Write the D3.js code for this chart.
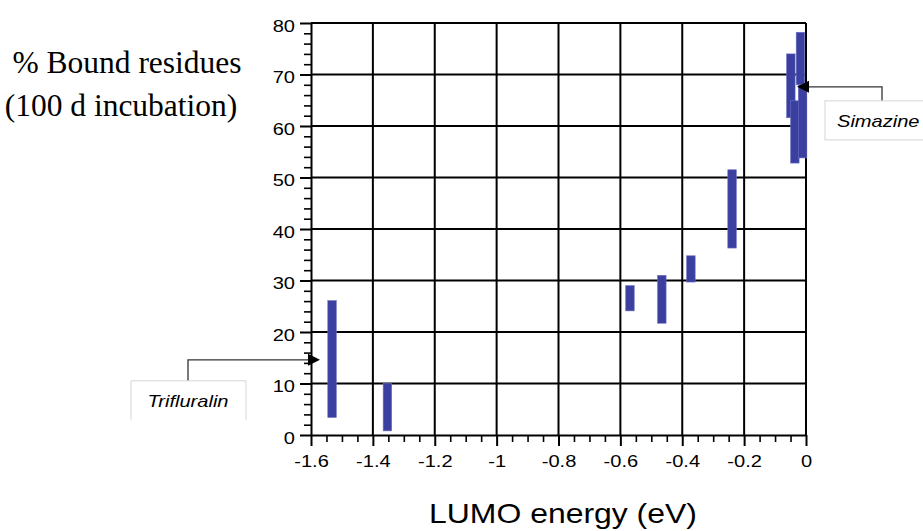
<!DOCTYPE html>
<html>
<head>
<meta charset="utf-8">
<script src="https://cdn.jsdelivr.net/npm/d3@7"></script>
<style>
  body { margin: 0; background: #fff; }
  svg { display: block; }
</style>
</head>
<body>
<svg id="canvas" width="923" height="531"></svg>
<script>
// LUMO energy (eV) of each compound and its bound-residue range (%)
let lumo = [-1.532, -1.353, -0.569, -0.466, -0.372, -0.239, -0.049, -0.036, -0.018, -0.011];
let boundLow = [3.4, 0.8, 24.1, 21.7, 29.7, 36.3, 61.6, 52.8, 68.0, 53.8];
let boundHigh = [26.1, 10.0, 29.0, 31.0, 34.8, 51.5, 74.0, 64.9, 78.2, 68.0];

let xTicks = [-1.6, -1.4, -1.2, -1, -0.8, -0.6, -0.4, -0.2, 0];
let yTicks = [0, 10, 20, 30, 40, 50, 60, 70, 80];

// callouts: name, arrow tip (data coords)
let calloutNames = ['Trifluralin', 'Simazine'];
let calloutX = [-1.571, -0.029];
let calloutY = [14.6, 67.6];

let svg = d3.select('#canvas');

let x = d3.scaleLinear().domain([-1.6, 0]).range([311, 806]);
let y = d3.scaleLinear().domain([0, 80]).range([435, 23]);

// stretch helvetica-ish text a bit wider, like the original
let stretch = (sel, k) => {
    sel.each(function () {
        let w = this.getComputedTextLength();
        d3.select(this).attr('textLength', w * k).attr('lengthAdjust', 'spacingAndGlyphs');
    });
};

// grid
svg.append('g')
    .selectAll('line')
    .data(xTicks.slice(1))
    .enter()
    .append('line')
    .attr('x1', (d) => x(d)).attr('x2', (d) => x(d))
    .attr('y1', y(80)).attr('y2', y(0))
    .attr('stroke', '#000').attr('stroke-width', 2);

svg.append('g')
    .selectAll('line')
    .data(yTicks.slice(1))
    .enter()
    .append('line')
    .attr('x1', x(-1.6)).attr('x2', x(0))
    .attr('y1', (d) => y(d)).attr('y2', (d) => y(d))
    .attr('stroke', '#000').attr('stroke-width', 2);

// minor ticks
let xMinor = d3.range(-1.6, 0.001, 0.05).filter((d) => Math.abs(d * 5 - Math.round(d * 5)) > 0.01);
let yMinor = d3.range(0, 80.1, 2).filter((d) => d % 10 !== 0);

svg.append('g')
    .attr('transform', 'translate(0,' + y(0) + ')')
    .call(d3.axisBottom(x).tickValues(xMinor).tickSize(7).tickSizeOuter(0).tickFormat(''))
    .call((g) => g.select('.domain').remove())
    .selectAll('line').attr('stroke-width', 1.6);

svg.append('g')
    .attr('transform', 'translate(' + x(-1.6) + ',0)')
    .call(d3.axisLeft(y).tickValues(yMinor).tickSize(7).tickSizeOuter(0).tickFormat(''))
    .call((g) => g.select('.domain').remove())
    .selectAll('line').attr('stroke-width', 1.6);

// major axes
let xAxis = svg.append('g')
    .attr('transform', 'translate(0,' + y(0) + ')')
    .call(d3.axisBottom(x).tickValues(xTicks).tickSize(11).tickSizeOuter(0).tickPadding(9)
        .tickFormat((d) => String(+d.toFixed(1))));
xAxis.select('.domain').attr('stroke-width', 2);
xAxis.selectAll('line').attr('stroke-width', 2);
xAxis.selectAll('text')
    .attr('font-family', 'Liberation Sans, Arial, sans-serif')
    .attr('font-size', 17)
    .attr('fill', '#000')
    .call(stretch, 1.18);

let yAxis = svg.append('g')
    .attr('transform', 'translate(' + x(-1.6) + ',0)')
    .call(d3.axisLeft(y).tickValues(yTicks).tickSize(11).tickSizeOuter(0).tickPadding(5));
yAxis.select('.domain').attr('stroke-width', 2);
yAxis.selectAll('line').attr('stroke-width', 2);
yAxis.selectAll('text')
    .attr('font-family', 'Liberation Sans, Arial, sans-serif')
    .attr('font-size', 17)
    .attr('dy', '0.48em')
    .attr('fill', '#000')
    .call(stretch, 1.18);

// bars
let barW = 8.5;
svg.append('g')
    .selectAll('rect')
    .data(lumo)
    .enter()
    .append('rect')
    .attr('x', (d) => x(d) - barW / 2)
    .attr('width', barW)
    .attr('y', (d, i) => y(boundHigh[i]))
    .attr('height', (d, i) => y(boundLow[i]) - y(boundHigh[i]))
    .attr('fill', '#3b40a0')
    .attr('stroke', '#6b70c0')
    .attr('stroke-width', 0.6);

// callouts
let arrow = (tx, ty, dir) => {
    // dir = -1 pointing left, +1 pointing right
    let bx = tx - dir * 12;
    return 'M' + tx + ',' + ty + 'L' + bx + ',' + (ty - 6) + 'L' + bx + ',' + (ty + 6) + 'Z';
};

// Trifluralin: line comes from the left, box below-left
{
    let tx = x(calloutX[0]), ty = y(calloutY[0]);
    let cx = 188;
    svg.append('path')
        .attr('d', 'M' + cx + ',' + (ty + 21) + 'V' + ty + 'H' + (tx - 10))
        .attr('fill', 'none').attr('stroke', '#333').attr('stroke-width', 1.3);
    svg.append('path').attr('d', arrow(tx, ty, 1)).attr('fill', '#000');
    svg.append('path')
        .attr('d', 'M131,' + (ty + 60) + 'V' + (ty + 21) + 'H246V' + (ty + 60))
        .attr('fill', 'none').attr('stroke', '#d6d6d6').attr('stroke-width', 1);
    svg.append('text')
        .attr('x', cx).attr('y', ty + 47)
        .attr('text-anchor', 'middle')
        .attr('font-family', 'Liberation Sans, Arial, sans-serif')
        .attr('font-style', 'italic')
        .attr('font-size', 17)
        .text(calloutNames[0])
        .call(stretch, 1.18);
}

// Simazine: line goes to the right, box below-right
{
    let tx = x(calloutX[1]), ty = y(calloutY[1]);
    let cx = 882;
    svg.append('path')
        .attr('d', 'M' + (tx + 10) + ',' + ty + 'H' + cx + 'V' + (ty + 14))
        .attr('fill', 'none').attr('stroke', '#333').attr('stroke-width', 1.3);
    svg.append('path').attr('d', arrow(tx, ty, -1)).attr('fill', '#000');
    svg.append('rect')
        .attr('x', 825).attr('y', ty + 14).attr('width', 120).attr('height', 39)
        .attr('fill', 'none').attr('stroke', '#d6d6d6').attr('stroke-width', 1);
    svg.append('text')
        .attr('x', 837).attr('y', ty + 40)
        .attr('font-family', 'Liberation Sans, Arial, sans-serif')
        .attr('font-style', 'italic')
        .attr('font-size', 17)
        .text(calloutNames[1])
        .call(stretch, 1.18);
}

// axis titles
svg.append('text')
    .attr('x', 563).attr('y', 523)
    .attr('text-anchor', 'middle')
    .attr('font-family', 'Liberation Sans, Arial, sans-serif')
    .attr('font-size', 28)
    .text('LUMO energy (eV)')
    .call(stretch, 1.14);

svg.append('text')
    .attr('x', 127).attr('y', 73)
    .attr('text-anchor', 'middle')
    .attr('font-family', 'Liberation Serif, Times New Roman, serif')
    .attr('font-size', 31.5)
    .text('% Bound residues');

svg.append('text')
    .attr('x', 121).attr('y', 116)
    .attr('text-anchor', 'middle')
    .attr('font-family', 'Liberation Serif, Times New Roman, serif')
    .attr('font-size', 31.5)
    .text('(100 d incubation)');
</script>
</body>
</html>
